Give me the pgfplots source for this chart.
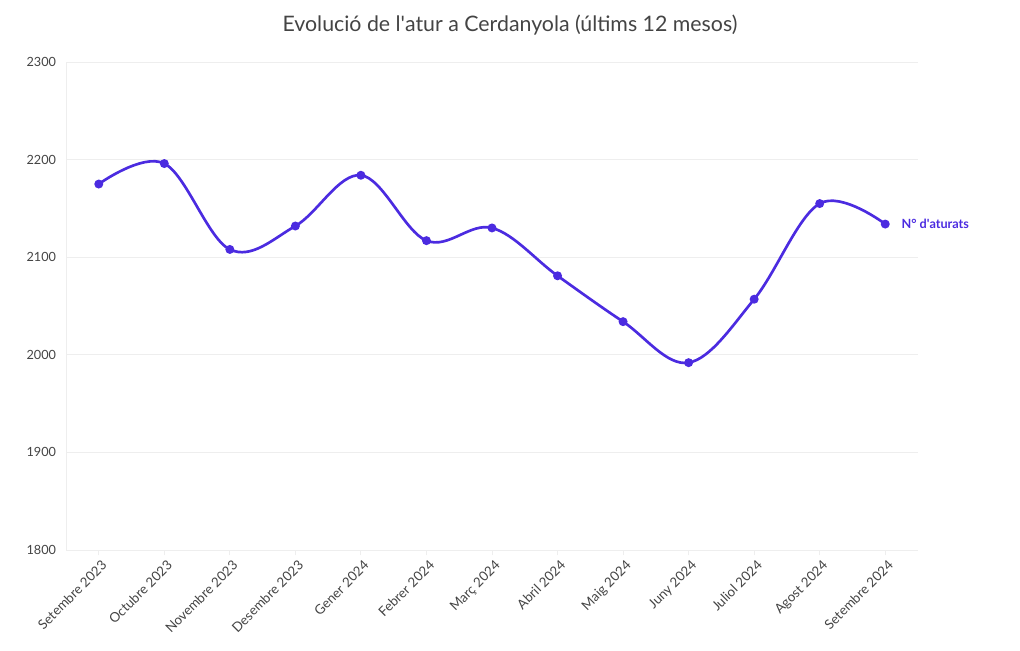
\documentclass[border=0pt]{standalone}
\usepackage{pgfplots}
\pgfplotsset{compat=1.18}
\usepackage{fontspec}
\setmainfont{Lato}
\definecolor{linec}{HTML}{4B2BE0}
\definecolor{gridc}{HTML}{EEEEEE}
\definecolor{textc}{HTML}{444444}
\begin{document}
\begin{tikzpicture}[x=0.75pt,y=0.75pt]
\useasboundingbox (0,0) rectangle (1020,650);
\node[text=textc,font=\fontsize{16}{19}\selectfont] at (510,625) {Evolució de l\textquotesingle atur a Cerdanyola (últims 12 mesos)};
\begin{axis}[
  at={(49.5pt,75pt)}, anchor=south west,
  scale only axis, width=639pt, height=366pt,
  xmin=-0.5, xmax=12.5, ymin=1800, ymax=2300,
  xtick={0,...,12},
  xticklabels={Setembre 2023,Octubre 2023,Novembre 2023,Desembre 2023,Gener 2024,Febrer 2024,Març 2024,Abril 2024,Maig 2024,Juny 2024,Juliol 2024,Agost 2024,Setembre 2024},
  x tick label style={rotate=45, anchor=north east, font=\fontsize{10}{11}\selectfont, text=textc, inner sep=1pt, yshift=-2pt},
  ytick={1800,1900,...,2300},
  y tick label style={font=\fontsize{9.5}{10}\selectfont, text=textc},
  /pgf/number format/assume math mode=true,
  /pgf/number format/set thousands separator={},
  ymajorgrids, grid style={gridc, line width=0.75pt},
  axis line style={draw=none},
  xtick style={draw=gridc, line width=0.75pt},
  ytick style={draw=none},
  xtick pos=bottom, tick align=outside, major tick length=4pt,
  clip=false,
]
\draw[gridc, line width=0.75pt] (axis cs:-0.5,1800) -- (axis cs:-0.5,2300);
\addplot[linec, line width=2pt, smooth, tension=0.6, mark=*, mark size=2.3pt, mark options={fill=linec, draw=linec}] coordinates {
(0,2175) (1,2196) (2,2108) (3,2132) (4,2184) (5,2117) (6,2130) (7,2081) (8,2034) (9,1992) (10,2057) (11,2155) (12,2134)
};
\draw[linec!60, line width=0.6pt] (axis cs:12,2134) ++(6pt,0) -- ++(3.5pt,0);
\node[anchor=west, text=linec, font=\fontsize{9.5}{10}\selectfont\bfseries, inner sep=0pt] at (axis cs:12,2134) [xshift=12pt] {N° d\textquotesingle aturats};
\end{axis}
\end{tikzpicture}
\end{document}
